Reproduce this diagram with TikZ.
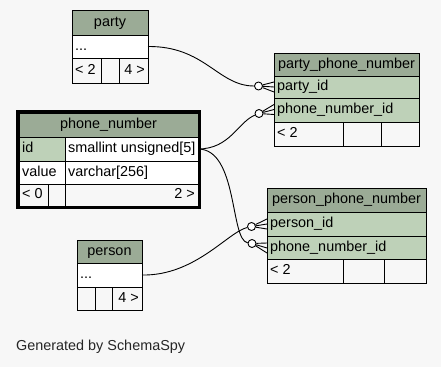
\documentclass[tikz,border=0pt]{standalone}
\usepackage{fontspec}
\setmainfont{Liberation Sans}
\definecolor{pagebg}{HTML}{F7F7F7}
\definecolor{headbg}{HTML}{9BAB96}
\definecolor{keybg}{HTML}{BED1B8}

% one table cell: name, x, y (top left), width, height, fill, text anchor, text shift, text
\newcommand\tcell[9]{%
  \node[cellbox, fill=#6, minimum width=#4pt, minimum height=#5pt] (#1) at (#2,#3) {};
  \node[celltext, anchor=#7, xshift=#8pt] (#1-t) at (#1.#7) {#9};}

\begin{document}
\begin{tikzpicture}[x=1pt, y=-1pt,
  cellbox/.style={draw=black, line width=0.8pt, rectangle, anchor=north west,
    inner sep=0pt, outer sep=0pt},
  celltext/.style={inner sep=0pt, text height=10pt, text depth=3pt,
    font=\fontsize{14.4}{16}\selectfont},
  relation/.style={draw=black, line width=0.9pt},
  optional/.style={circle, draw=black, line width=0.9pt, fill=white,
    minimum size=8pt, inner sep=0pt}]

\fill[pagebg] (0,0) rectangle (441,367);
\useasboundingbox (0,0) rectangle (441,367);

% ---------- relationship markers ----------
\node[optional] (c1) at (258.5,86) {};
\node[optional] (c2) at (259,113.5) {};
\node[optional] (c3) at (251.5,226.5) {};
\node[optional] (c4) at (252,243.5) {};

% ---------- tables ----------
% party
\tcell{party}{72}{10}{76}{25}{headbg}{center}{0}{party}
\tcell{party-more}{72}{35}{76}{23}{white}{west}{3}{...}
\tcell{party-parents}{72}{58}{29}{25}{pagebg}{west}{3}{< 2}
\tcell{party-gap}{101}{58}{18}{25}{pagebg}{center}{0}{}
\tcell{party-children}{119}{58}{29}{25}{pagebg}{east}{-3}{4 >}

% party_phone_number
\tcell{ppn}{274}{53}{145}{23}{headbg}{center}{0}{party\_phone\_number}
\tcell{ppn-party}{274}{76}{145}{22}{keybg}{west}{3}{party\_id}
\tcell{ppn-phone}{274}{98}{145}{24}{keybg}{west}{3}{phone\_number\_id}
\tcell{ppn-parents}{274}{122}{69}{24}{pagebg}{west}{3}{< 2}
\tcell{ppn-gap}{343}{122}{38}{24}{pagebg}{center}{0}{}
\tcell{ppn-children}{381}{122}{38}{24}{pagebg}{center}{0}{}

% person_phone_number
\tcell{psn}{267}{188}{159}{24}{headbg}{center}{0}{person\_phone\_number}
\tcell{psn-person}{267}{212}{159}{24}{keybg}{west}{3}{person\_id}
\tcell{psn-phone}{267}{236}{159}{23}{keybg}{west}{3}{phone\_number\_id}
\tcell{psn-parents}{267}{259}{76}{24}{pagebg}{west}{3}{< 2}
\tcell{psn-gap}{343}{259}{41}{24}{pagebg}{center}{0}{}
\tcell{psn-children}{384}{259}{42}{24}{pagebg}{center}{0}{}

% person
\tcell{person}{77}{240}{65}{23}{headbg}{center}{0}{person}
\tcell{person-more}{77}{263}{65}{24}{white}{west}{3}{...}
\tcell{person-parents}{77}{287}{18}{23}{pagebg}{center}{0}{}
\tcell{person-gap}{95}{287}{17}{23}{pagebg}{center}{0}{}
\tcell{person-children}{112}{287}{30}{23}{pagebg}{east}{-3}{4 >}

% ---------- relationships ----------
\draw[relation] (party-more.east) .. controls (205,46) and (218,86) .. (c1);
\draw[relation] (c1) -- (ppn-party.west)
  (c1) -- ([yshift=5pt]ppn-party.west)
  (c1) -- ([yshift=-5pt]ppn-party.west);

\draw[relation] (198,149) .. controls (230,149) and (238,122) .. (c2);
\draw[relation] (c2) -- ([yshift=0.5pt]ppn-phone.west)
  (c2) -- ([yshift=5.5pt]ppn-phone.west)
  (c2) -- ([yshift=-4.5pt]ppn-phone.west);

\draw[relation] (198,149) .. controls (238,149) and (230,240) .. (c4);
\draw[relation] (c4) -- ([yshift=-0.5pt]psn-phone.west)
  (c4) -- ([yshift=4.5pt]psn-phone.west)
  (c4) -- ([yshift=-5.5pt]psn-phone.west);

\draw[relation] (person-more.east) .. controls (195,276) and (228,232) .. (c3);
\draw[relation] (c3) -- (psn-person.west)
  (c3) -- ([yshift=5pt]psn-person.west)
  (c3) -- ([yshift=-5pt]psn-person.west);

% phone_number (selected table, heavy frame), drawn over the edge starts
\tcell{pn}{19}{113}{179}{24}{headbg}{center}{0}{phone\_number}
\tcell{pn-id}{19}{137}{46}{24}{keybg}{west}{3}{id}
\tcell{pn-id-type}{65}{137}{133}{24}{white}{west}{3}{smallint unsigned[5]}
\tcell{pn-value}{19}{161}{46}{23}{white}{west}{3}{value}
\tcell{pn-value-type}{65}{161}{133}{23}{white}{west}{3}{varchar[256]}
\tcell{pn-parents}{19}{184}{29}{22}{pagebg}{west}{3}{< 0}
\tcell{pn-gap}{48}{184}{17}{22}{pagebg}{center}{0}{}
\tcell{pn-children}{65}{184}{133}{22}{pagebg}{east}{-3}{2 >}
\node[draw=black, line width=3pt, inner sep=0pt, outer sep=0pt, anchor=north west,
  minimum width=182pt, minimum height=96pt] (pn-frame) at (17.5,111.5) {};

% footer
\node[anchor=west, inner sep=0pt, font=\fontsize{14.4}{16}\selectfont, text=black!85]
  (credit) at (16,347) {Generated by SchemaSpy};
\end{tikzpicture}
\end{document}
